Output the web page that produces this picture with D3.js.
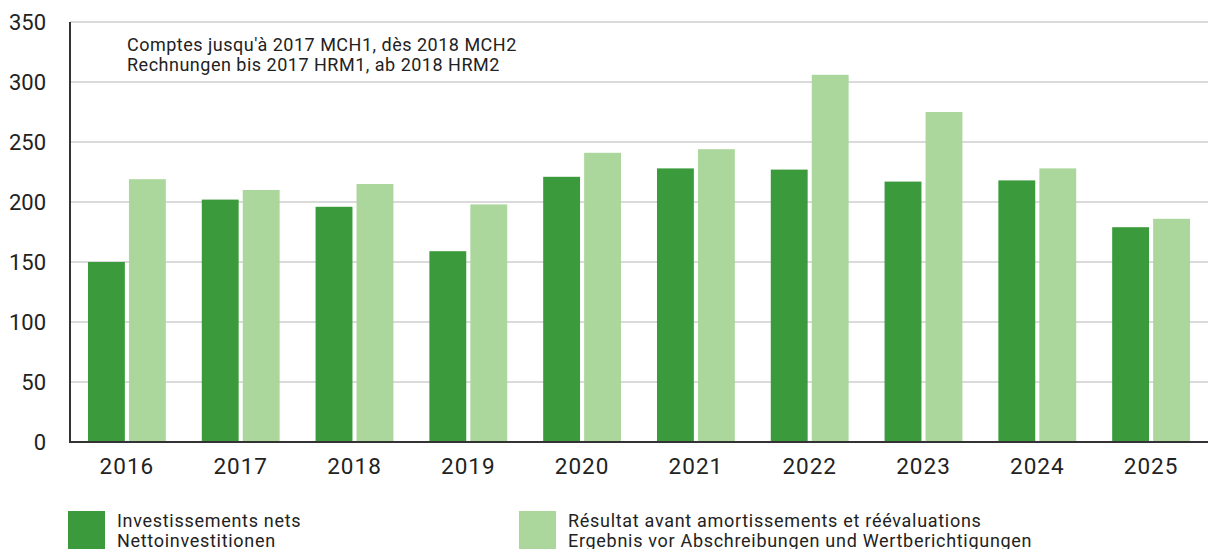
<!DOCTYPE html>
<html>
<head>
<meta charset="utf-8">
<script src="https://cdn.jsdelivr.net/npm/d3@7"></script>
<style>
  body { margin: 0; background: #fff; }
  svg { display: block; font-family: Roboto, "DejaVu Sans", sans-serif; }
</style>
</head>
<body>
<div id="chart"></div>
<script>
const years = ["2016", "2017", "2018", "2019", "2020", "2021", "2022", "2023", "2024", "2025"];
const nettoInvest = [150, 202, 196, 159, 221, 228, 227, 217, 218, 179];
const ergebnis = [219, 210, 215, 198, 241, 244, 306, 275, 228, 186];
const yTicks = [0, 50, 100, 150, 200, 250, 300, 350];
const seriesKeys = ["netto", "ergebnis"];
const seriesLabels = [
    ["Investissements nets", "Nettoinvestitionen"],
    ["Résultat avant amortissements et réévaluations", "Ergebnis vor Abschreibungen und Wertberichtigungen"]
];
const noteLines = ["Comptes jusqu'à 2017 MCH1, dès 2018 MCH2", "Rechnungen bis 2017 HRM1, ab 2018 HRM2"];

const W = 1208, H = 549;
const plot = { left: 70, right: 1208, top: 22, bottom: 442 };
const colors = { netto: "#3b9a3b", ergebnis: "#abd69c" };

const data = years.map((y, i) => ({ year: y, netto: nettoInvest[i], ergebnis: ergebnis[i] }));

const svg = d3.select("#chart").append("svg")
    .attr("width", W)
    .attr("height", H);

const x0 = d3.scaleBand().domain(years).range([plot.left, plot.right]);
const bw = x0.bandwidth();
const x1 = d3.scaleBand()
    .domain(seriesKeys)
    .range([bw * 0.158, bw * 0.842])
    .paddingInner(0.1);

const y = d3.scaleLinear().domain([0, 350]).range([plot.bottom, plot.top]);

// gridlines
svg.append("g")
    .selectAll("line")
    .data(yTicks.filter(d => d > 0))
    .join("line")
    .attr("x1", plot.left)
    .attr("x2", plot.right)
    .attr("y1", d => y(d))
    .attr("y2", d => y(d))
    .attr("stroke", "#dadada")
    .attr("stroke-width", 2);

// bars
svg.append("g")
    .selectAll("g")
    .data(data)
    .join("g")
    .attr("transform", d => "translate(" + x0(d.year) + ",0)")
    .selectAll("rect")
    .data(d => seriesKeys.map(k => ({ key: k, value: d[k] })))
    .join("rect")
    .attr("x", d => x1(d.key))
    .attr("width", x1.bandwidth())
    .attr("y", d => y(d.value))
    .attr("height", d => y(0) - y(d.value))
    .attr("fill", d => colors[d.key]);

// y axis
const yAxis = d3.axisLeft(y).tickValues(yTicks).tickSize(0).tickPadding(24);
const gy = svg.append("g")
    .attr("transform", "translate(" + plot.left + ",0)")
    .call(yAxis);
gy.select(".domain").remove();
gy.selectAll("text")
    .attr("font-size", 22)
    .attr("font-family", "Roboto, sans-serif")
    .attr("fill", "#222");

svg.append("line")
    .attr("x1", plot.left).attr("x2", plot.left)
    .attr("y1", plot.top).attr("y2", plot.bottom + 1)
    .attr("stroke", "#333").attr("stroke-width", 2);

// x axis
const xAxis = d3.axisBottom(x0).tickSize(0).tickPadding(16);
const gx = svg.append("g")
    .attr("transform", "translate(0," + plot.bottom + ")")
    .call(xAxis);
gx.select(".domain").remove();
gx.selectAll("text")
    .attr("font-size", 22.5)
    .attr("letter-spacing", 1)
    .attr("font-family", "Roboto, sans-serif")
    .attr("fill", "#222");

svg.append("line")
    .attr("x1", plot.left - 1).attr("x2", plot.right)
    .attr("y1", plot.bottom).attr("y2", plot.bottom)
    .attr("stroke", "#333").attr("stroke-width", 2);

// note
svg.append("g")
    .selectAll("text")
    .data(noteLines)
    .join("text")
    .attr("x", 127)
    .attr("y", (d, i) => 51 + i * 20)
    .attr("font-size", 18)
    .attr("letter-spacing", 0.5)
    .attr("fill", "#222")
    .text(d => d);

// legend
const legendX = [68, 519];
const legend = svg.append("g")
    .selectAll("g")
    .data(seriesKeys)
    .join("g")
    .attr("transform", (d, i) => "translate(" + legendX[i] + ",511)");

legend.append("rect")
    .attr("width", 37)
    .attr("height", 38)
    .attr("fill", d => colors[d]);

legend.each(function (d, i) {
    d3.select(this).selectAll("text")
        .data(seriesLabels[i])
        .join("text")
        .attr("x", 49)
        .attr("y", (t, j) => 16 + j * 20)
        .attr("font-size", 18)
        .attr("letter-spacing", 0.7)
        .attr("fill", "#222")
        .text(t => t);
});
</script>
</body>
</html>
